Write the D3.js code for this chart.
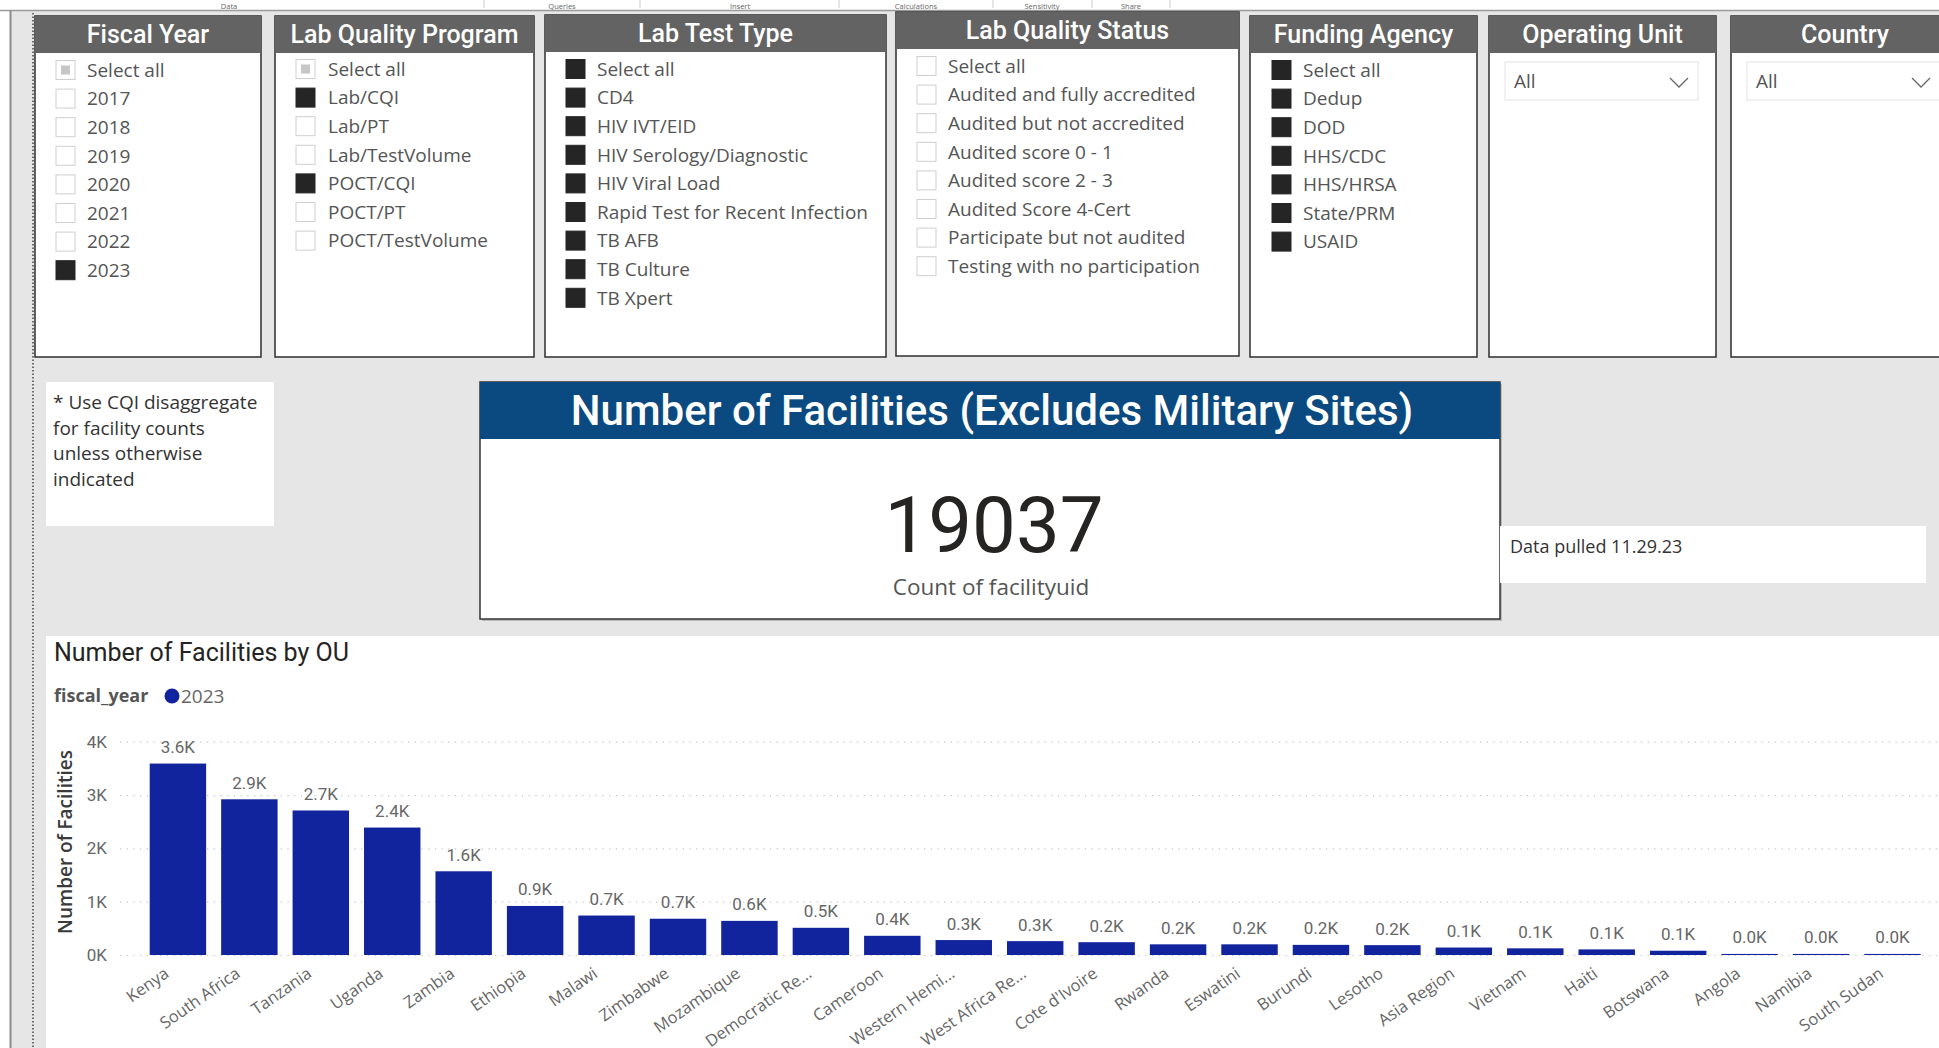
<!DOCTYPE html>
<html>
<head>
<meta charset="utf-8">
<script src="https://cdn.jsdelivr.net/npm/d3@7"></script>
<style>
  body { margin: 0; background: #e6e6e6; overflow: hidden; }
  svg { display: block; }
</style>
</head>
<body>
<svg id="page" width="1939" height="1048"></svg>
<script>
// ---- data ----
var fiscalYears = ["Select all", "2017", "2018", "2019", "2020", "2021", "2022", "2023"];
var fiscalYearState = ["partial", "off", "off", "off", "off", "off", "off", "on"];

var labPrograms = ["Select all", "Lab/CQI", "Lab/PT", "Lab/TestVolume", "POCT/CQI", "POCT/PT", "POCT/TestVolume"];
var labProgramState = ["partial", "on", "off", "off", "on", "off", "off"];

var labTestTypes = ["Select all", "CD4", "HIV IVT/EID", "HIV Serology/Diagnostic", "HIV Viral Load",
  "Rapid Test for Recent Infection", "TB AFB", "TB Culture", "TB Xpert"];
var labTestState = ["on", "on", "on", "on", "on", "on", "on", "on", "on"];

var qualityStatus = ["Select all", "Audited and fully accredited", "Audited but not accredited",
  "Audited score 0 - 1", "Audited score 2 - 3", "Audited Score 4-Cert",
  "Participate but not audited", "Testing with no participation"];
var qualityState = ["off", "off", "off", "off", "off", "off", "off", "off"];

var fundingAgencies = ["Select all", "Dedup", "DOD", "HHS/CDC", "HHS/HRSA", "State/PRM", "USAID"];
var fundingState = ["on", "on", "on", "on", "on", "on", "on"];

var ribbonTabs = ["Data", "Queries", "Insert", "Calculations", "Sensitivity", "Share"];

var facilityTotal = 19037;
var noteLines = ["* Use CQI disaggregate", "for facility counts", "unless otherwise", "indicated"];

var ous = ["Kenya", "South Africa", "Tanzania", "Uganda", "Zambia", "Ethiopia", "Malawi", "Zimbabwe",
  "Mozambique", "Democratic Re...", "Cameroon", "Western Hemi...", "West Africa Re...", "Cote d'Ivoire",
  "Rwanda", "Eswatini", "Burundi", "Lesotho", "Asia Region", "Vietnam", "Haiti", "Botswana",
  "Angola", "Namibia", "South Sudan"];
var facilityCounts = [3590, 2920, 2710, 2390, 1570, 920, 740, 680,
  640, 510, 360, 280, 260, 240,
  200, 200, 190, 185, 140, 125, 105, 80,
  20, 20, 20];
var yTicks = [0, 1000, 2000, 3000, 4000];

// ---- fonts ----
var DIN = "Roboto, 'DejaVu Sans', sans-serif";
var SEG = "'Segoe UI', 'Open Sans', 'Noto Sans', sans-serif";

var svg = d3.select("#page");

// page background + chrome
svg.append("rect").attr("width", 1939).attr("height", 1048).attr("fill", "#e6e6e6");
svg.append("rect").attr("width", 1939).attr("height", 10).attr("fill", "#ffffff");
svg.append("rect").attr("width", 10).attr("height", 1048).attr("fill", "#ffffff");
svg.append("line").attr("x1", 0).attr("x2", 1939).attr("y1", 10.5).attr("y2", 10.5)
  .attr("stroke", "#9a9a9a").attr("stroke-width", 1.5);
svg.append("line").attr("x1", 10.5).attr("x2", 10.5).attr("y1", 10).attr("y2", 1048)
  .attr("stroke", "#8c8c8c").attr("stroke-width", 2);
svg.append("line").attr("x1", 33).attr("x2", 33).attr("y1", 13).attr("y2", 1048)
  .attr("stroke", "#444").attr("stroke-width", 1.5).attr("stroke-dasharray", "1.5,2");

var tabX = [229, 562, 740, 916, 1042, 1131];
svg.selectAll(".tab").data(ribbonTabs).enter().append("text")
  .attr("x", function(d, i) { return tabX[i]; }).attr("y", 8.5)
  .attr("text-anchor", "middle").attr("font-family", SEG).attr("font-size", 7.5)
  .attr("fill", "#666").text(function(d) { return d; });
[484, 640, 839, 993, 1092, 1170].forEach(function(x) {
  svg.append("line").attr("x1", x).attr("x2", x).attr("y1", 0).attr("y2", 8)
    .attr("stroke", "#ccc");
});

// ---- slicers ----
var slicers = [
  {title: "Fiscal Year", items: fiscalYears, state: fiscalYearState, x: 35, y: 16, w: 226, cb: 56, tx: 87, r0: 70},
  {title: "Lab Quality Program", items: labPrograms, state: labProgramState, x: 275, y: 16, w: 259, cb: 296, tx: 328, r0: 69},
  {title: "Lab Test Type", items: labTestTypes, state: labTestState, x: 545, y: 15, w: 341, cb: 566, tx: 597, r0: 69},
  {title: "Lab Quality Status", items: qualityStatus, state: qualityState, x: 896, y: 12, w: 343, cb: 917, tx: 948, r0: 66},
  {title: "Funding Agency", items: fundingAgencies, state: fundingState, x: 1250, y: 16, w: 227, cb: 1272, tx: 1303, r0: 70},
  {title: "Operating Unit", items: null, x: 1489, y: 16, w: 227},
  {title: "Country", items: null, x: 1731, y: 16, w: 228}
];
var rowStep = 28.6;

slicers.forEach(function(s) {
  var g = svg.append("g");
  var h = 357 - s.y + (s.y < 14 ? -1 : 0);
  g.append("rect").attr("x", s.x).attr("y", s.y).attr("width", s.w).attr("height", h)
    .attr("fill", "#fff").attr("stroke", "#2e2e2e").attr("stroke-width", 1.5);
  g.append("rect").attr("x", s.x).attr("y", s.y).attr("width", s.w).attr("height", 37)
    .attr("fill", "#636363");
  g.append("text").attr("x", s.x + s.w / 2).attr("y", s.y + 27)
    .attr("text-anchor", "middle").attr("font-family", DIN).attr("font-weight", 500)
    .attr("font-size", 25).attr("fill", "#fff").text(s.title);

  if (s.items) {
    var rows = g.selectAll(".row").data(s.items).enter().append("g")
      .attr("transform", function(d, i) { return "translate(0," + (s.r0 + i * rowStep) + ")"; });
    rows.append("rect").attr("x", s.cb).attr("y", -9.5).attr("width", 19).attr("height", 19)
      .attr("fill", function(d, i) { return s.state[i] === "on" ? "#252525" : "#fff"; })
      .attr("stroke", function(d, i) { return s.state[i] === "on" ? "#252525" : "#cfcfcf"; })
      .attr("stroke-width", 1);
    rows.filter(function(d, i) { return s.state[i] === "partial"; })
      .append("rect").attr("x", s.cb + 5).attr("y", -4.5).attr("width", 9).attr("height", 9)
      .attr("fill", "#c6c6c6");
    rows.append("text").attr("x", s.tx).attr("y", 0).attr("dy", "0.36em")
      .attr("font-family", SEG).attr("font-size", 19).attr("fill", "#555")
      .text(function(d) { return d; });
  } else {
    var dx = s.x + 16, dw = Math.min(193, 1939 - dx + 20);
    g.append("rect").attr("x", dx).attr("y", 62).attr("width", dw).attr("height", 38)
      .attr("fill", "#fff").attr("stroke", "#e3e3e3");
    g.append("text").attr("x", dx + 9).attr("y", 81).attr("dy", "0.36em")
      .attr("font-family", SEG).attr("font-size", 19).attr("fill", "#555").text("All");
    var cx = dx + 174;
    g.append("path").attr("d", "M" + (cx - 9) + ",78 L" + cx + ",87 L" + (cx + 9) + ",78")
      .attr("fill", "none").attr("stroke", "#666").attr("stroke-width", 1.3);
  }
});

// ---- note box ----
svg.append("rect").attr("x", 46).attr("y", 382).attr("width", 228).attr("height", 144).attr("fill", "#fff");
svg.selectAll(".note").data(noteLines).enter().append("text")
  .attr("x", 53).attr("y", function(d, i) { return 402 + i * 25.7; }).attr("dy", "0.36em")
  .attr("font-family", SEG).attr("font-size", 19).attr("fill", "#333").text(function(d) { return d; });

// ---- card ----
svg.append("rect").attr("x", 482).attr("y", 384).attr("width", 1020).attr("height", 237).attr("fill", "#bdbdbd");
svg.append("rect").attr("x", 480).attr("y", 382).attr("width", 1020).attr("height", 237)
  .attr("fill", "#fff").attr("stroke", "#333").attr("stroke-width", 1.5);
svg.append("rect").attr("x", 480).attr("y", 382).attr("width", 1020).attr("height", 57).attr("fill", "#0b4a80");
svg.append("text").attr("x", 992).attr("y", 425).attr("text-anchor", "middle")
  .attr("font-family", DIN).attr("font-weight", 500).attr("font-size", 42).attr("fill", "#fff")
  .text("Number of Facilities (Excludes Military Sites)");
svg.append("text").attr("x", 994).attr("y", 552).attr("text-anchor", "middle")
  .attr("font-family", DIN).attr("font-size", 78).attr("fill", "#252423")
  .text(facilityTotal);
svg.append("text").attr("x", 991).attr("y", 595).attr("text-anchor", "middle")
  .attr("font-family", SEG).attr("font-size", 22.5).attr("fill", "#555")
  .text("Count of facilityuid");

// ---- data pulled box ----
svg.append("rect").attr("x", 1500).attr("y", 526).attr("width", 426).attr("height", 57).attr("fill", "#fff");
svg.append("text").attr("x", 1510).attr("y", 547).attr("dy", "0.36em")
  .attr("font-family", SEG).attr("font-size", 18).attr("fill", "#333").text("Data pulled 11.29.23");

// ---- bar chart ----
svg.append("rect").attr("x", 46).attr("y", 636).attr("width", 1893).attr("height", 412).attr("fill", "#fff");
svg.append("text").attr("x", 54).attr("y", 661)
  .attr("font-family", DIN).attr("font-size", 25).attr("fill", "#252423").text("Number of Facilities by OU");
svg.append("text").attr("x", 54).attr("y", 696).attr("dy", "0.36em")
  .attr("font-family", SEG).attr("font-weight", 700).attr("font-size", 18).attr("fill", "#555").text("fiscal_year");
svg.append("circle").attr("cx", 172).attr("cy", 696).attr("r", 7.5).attr("fill", "#12239e");
svg.append("text").attr("x", 181).attr("y", 696).attr("dy", "0.36em")
  .attr("font-family", SEG).attr("font-size", 19).attr("fill", "#666").text("2023");

var x = d3.scaleBand().domain(ous).range([142.2, 1928.2]).paddingInner(0.21).paddingOuter(0.105);
var y = d3.scaleLinear().domain([0, 4000]).range([955, 741.7]);

var yAxis = svg.append("g").attr("transform", "translate(120,0)")
  .call(d3.axisLeft(y).tickValues(yTicks).tickSize(-(1939 - 120)).tickPadding(13)
    .tickFormat(function(d) { return (d / 1000) + "K"; }));
yAxis.select(".domain").remove();
yAxis.selectAll("line").attr("stroke", "#c4c4c4").attr("stroke-width", 1.2).attr("stroke-dasharray", "1.2,5.5");
yAxis.selectAll("text").attr("font-family", DIN).attr("font-size", 17).attr("fill", "#666");

svg.append("text").attr("transform", "translate(65,842) rotate(-90)").attr("dy", "0.36em")
  .attr("text-anchor", "middle").attr("font-family", SEG).attr("font-weight", 600)
  .attr("font-size", 19).attr("fill", "#3a3a3a").text("Number of Facilities");

svg.selectAll(".bar").data(ous).enter().append("rect")
  .attr("x", function(d) { return x(d); })
  .attr("width", x.bandwidth())
  .attr("y", function(d, i) { return y(facilityCounts[i]); })
  .attr("height", function(d, i) { return y(0) - y(facilityCounts[i]); })
  .attr("fill", "#12239e");

svg.selectAll(".lbl").data(ous).enter().append("text")
  .attr("x", function(d) { return x(d) + x.bandwidth() / 2; })
  .attr("y", function(d, i) { return y(facilityCounts[i]) - 10.5; })
  .attr("text-anchor", "middle").attr("font-family", DIN).attr("font-size", 17).attr("fill", "#666")
  .text(function(d, i) { return (facilityCounts[i] / 1000).toFixed(1) + "K"; });

var xAxis = svg.append("g").attr("transform", "translate(0,955)")
  .call(d3.axisBottom(x).tickSize(0));
xAxis.select(".domain").remove();
xAxis.selectAll("text")
  .attr("x", 0).attr("y", 0).attr("dy", 0)
  .attr("text-anchor", "end")
  .attr("transform", "translate(-8,21) rotate(-35)")
  .attr("font-family", SEG).attr("font-size", 16.5).attr("fill", "#666");
</script>
</body>
</html>
